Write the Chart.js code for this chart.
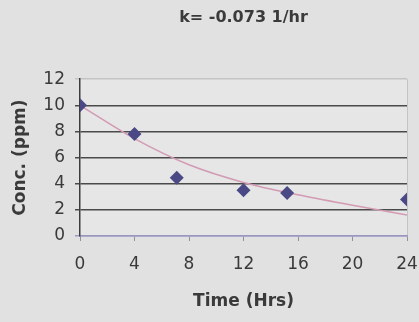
<!DOCTYPE html>
<html>
<head>
<meta charset="utf-8">
<script src="https://cdn.jsdelivr.net/npm/chart.js@4"></script>
<style>
  html, body { margin: 0; padding: 0; background: #e1e1e1; }
  #wrap { width: 419px; height: 322px; position: relative; }
</style>
</head>
<body>
<div id="wrap"><canvas id="concChart"></canvas></div>
<script>
// Measured concentrations
const timeHrs = [0, 4, 7.1, 12, 15.2, 24];
const concPpm = [10, 7.8, 4.45, 3.5, 3.3, 2.8];

// Exponential trend line, read at each 4 hr tick
const trendHrs = [0, 4, 8, 12, 16, 20, 24];
const trendPpm = [10, 7.45, 5.45, 4.1, 3.15, 2.35, 1.6];

const xTicks = [0, 4, 8, 12, 16, 20, 24];
const yTicks = [0, 2, 4, 6, 8, 10, 12];

const titleText = 'k= -0.073 1/hr';

// Fills the plot area and the outer background
const backgroundPlugin = {
    id: 'bg',
    beforeDraw(chart) {
        const ctx = chart.ctx;
        const a = chart.chartArea;
        ctx.save();
        ctx.fillStyle = '#e1e1e1';
        ctx.fillRect(0, 0, chart.width, chart.height);
        ctx.fillStyle = '#e6e6e6';
        ctx.fillRect(a.left, a.top, a.right - a.left, a.bottom - a.top);
        ctx.strokeStyle = '#c4c4c4';
        ctx.lineWidth = 1;
        ctx.beginPath();
        ctx.moveTo(a.right + 0.5, a.top);
        ctx.lineTo(a.right + 0.5, a.bottom);
        ctx.stroke();
        ctx.restore();
    }
};

const ctx = document.getElementById('concChart');
new Chart(ctx, {
    type: 'scatter',
    data: {
        datasets: [{
            label: 'Conc.',
            data: timeHrs.map((t, i) => ({ x: t, y: concPpm[i] })),
            pointStyle: 'rectRot',
            pointRadius: 7,
            backgroundColor: '#4b4886',
            borderColor: '#4b4886',
            borderWidth: 0,
            order: 1
        }, {
            label: 'Trend',
            type: 'line',
            data: trendHrs.map((t, i) => ({ x: t, y: trendPpm[i] })),
            borderColor: '#d39ab4',
            borderWidth: 1.5,
            pointRadius: 0,
            cubicInterpolationMode: 'monotone',
            fill: false,
            order: 2
        }]
    },
    options: {
        responsive: true,
        maintainAspectRatio: false,
        animation: false,
        layout: { autoPadding: false, padding: { left: 6, right: 12, top: 0, bottom: 6 } },
        plugins: {
            legend: { display: false },
            tooltip: { enabled: false },
            title: {
                display: true,
                fullSize: false,
                text: titleText,
                color: '#3a3a3a',
                font: { family: 'DejaVu Sans', size: 16, weight: 'bold' },
                padding: { top: 8, bottom: 52 }
            }
        },
        scales: {
            x: {
                type: 'linear',
                min: 0,
                max: 24,
                afterBuildTicks: scale => { scale.ticks = xTicks.map(v => ({ value: v })); },
                afterFit: scale => {
                    scale.height = 80;
                    // the last tick label may overhang the right padding
                    scale.paddingLeft = 0;
                    scale.paddingRight = 0;
                },
                border: { display: true, color: '#9a98c0', width: 1.5 },
                grid: {
                    drawOnChartArea: false,
                    drawTicks: true,
                    tickLength: 5,
                    color: '#8f8f9f'
                },
                ticks: {
                    color: '#3a3a3a',
                    padding: 13,
                    font: { family: 'DejaVu Sans', size: 17 }
                },
                title: {
                    display: true,
                    text: 'Time (Hrs)',
                    color: '#3a3a3a',
                    font: { family: 'DejaVu Sans', size: 17, weight: 'bold' },
                    padding: { top: 5 }
                }
            },
            y: {
                type: 'linear',
                min: 0,
                max: 12,
                afterBuildTicks: scale => { scale.ticks = yTicks.map(v => ({ value: v })); },
                afterFit: scale => { scale.width = 74; },
                border: { display: true, color: '#3c3c3c', width: 1.5 },
                grid: {
                    drawTicks: true,
                    tickLength: 5,
                    lineWidth: 1.5,
                    color: c => {
                        if (c.tick.value === 12) return '#c4c4c4';
                        if (c.tick.value === 0) return '#9a98c0';
                        return '#4a4a4a';
                    }
                },
                ticks: {
                    color: '#3a3a3a',
                    padding: 10,
                    font: { family: 'DejaVu Sans', size: 17 }
                },
                title: {
                    display: true,
                    text: 'Conc. (ppm)',
                    color: '#3a3a3a',
                    font: { family: 'DejaVu Sans', size: 17, weight: 'bold' },
                    padding: { bottom: 3 }
                }
            }
        }
    },
    plugins: [backgroundPlugin]
});
</script>
</body>
</html>
